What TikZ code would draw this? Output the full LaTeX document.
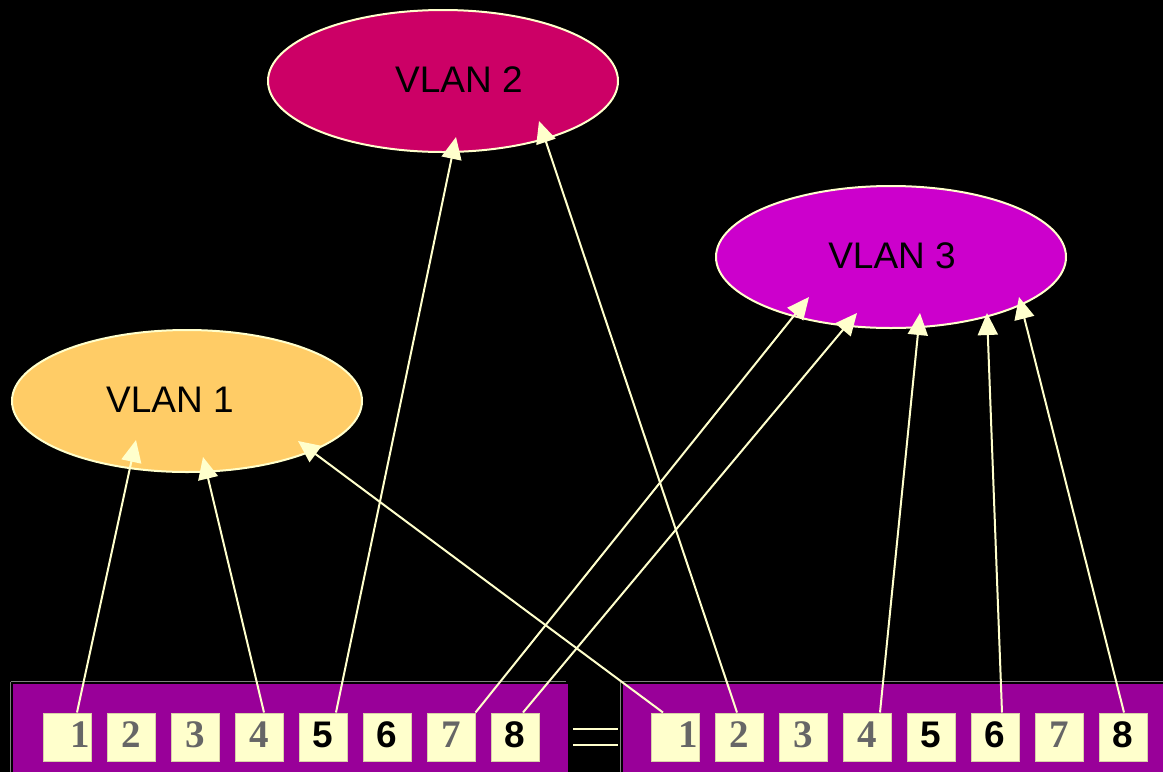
\documentclass[tikz,border=0pt]{standalone}
\usepackage{fontspec}
\setmainfont{Liberation Sans}
\newfontfamily\portserif{Liberation Serif}
\usetikzlibrary{shapes.geometric,arrows.meta}
\definecolor{cream}{HTML}{FFFFCC}
\definecolor{portedge}{HTML}{D8D0A8}
\definecolor{switchfill}{HTML}{990099}
\definecolor{frameline}{HTML}{808080}
\definecolor{dimdigit}{HTML}{666666}
\definecolor{vlanA}{HTML}{FFCC66}
\definecolor{vlanB}{HTML}{CC0066}
\definecolor{vlanC}{HTML}{CC00CC}
\begin{document}
\begin{tikzpicture}[x=1pt,y=-1pt,
  vlan/.style={ellipse, draw=cream, line width=2pt, minimum width=350pt,
    minimum height=142pt, inner sep=0pt},
  vlabel/.style={font=\fontsize{37}{40}\selectfont, text=black, inner sep=0pt},
  portbox/.style={draw=portedge, line width=1pt, fill=cream, minimum size=48pt,
    inner sep=0pt, text height=27pt, text depth=7pt},
  dimport/.style={portbox, text=dimdigit, font=\portserif\bfseries\fontsize{39}{40}\selectfont},
  liveport/.style={portbox, text=black, font=\bfseries\fontsize{37}{40}\selectfont},
  firstport/.style={text width=46pt, align=right},
  link/.style={draw=cream, line width=2pt, -{Triangle[length=22pt,width=20pt]}}]

% canvas
\fill[black] (0,0) rectangle (1163,772);
\useasboundingbox (0,0) rectangle (1163,772);

% switch chassis
\draw[frameline, line width=1pt] (10.5,681.5) -- (566,681.5);
\draw[frameline, line width=1pt] (10.5,681.5) -- (10.5,772);
\fill[switchfill] (13,683.5) rectangle (568,772);
\draw[frameline, line width=1pt] (620.5,772) -- (620.5,681.5) -- (1163,681.5);
\fill[switchfill] (622.5,683.5) rectangle (1163,772);

% trunk between the switches
\draw[cream, line width=2pt] (573,729) -- (618,729);
\draw[cream, line width=2pt] (573,745) -- (618,745);

% VLANs
\node[vlan, fill=vlanA] (v1) at (187,401) {};
\node[vlan, fill=vlanB] (v2) at (443,81) {};
\node[vlan, fill=vlanC] (v3) at (891,257) {};
\node[vlabel] (v1t) at (170,400) {VLAN 1};
\node[vlabel] (v2t) at (459,80) {VLAN 2};
\node[vlabel] (v3t) at (892,256) {VLAN 3};

% ports of the left switch
\node[dimport, firstport] (l1) at (67,737) {1};
\node[dimport] (l2) at (131,737) {2};
\node[dimport] (l3) at (195,737) {3};
\node[dimport] (l4) at (259,737) {4};
\node[liveport] (l5) at (323,737) {5};
\node[liveport] (l6) at (387,737) {6};
\node[dimport] (l7) at (451,737) {7};
\node[liveport] (l8) at (515,737) {8};

% ports of the right switch
\node[dimport, firstport] (r1) at (675,737) {1};
\node[dimport] (r2) at (739,737) {2};
\node[dimport] (r3) at (803,737) {3};
\node[dimport] (r4) at (867,737) {4};
\node[liveport] (r5) at (931,737) {5};
\node[liveport] (r6) at (995,737) {6};
\node[dimport] (r7) at (1059,737) {7};
\node[liveport] (r8) at (1123,737) {8};

% arrow tips on the VLANs
\coordinate (a11) at (136,440);
\coordinate (a14) at (203,457);
\coordinate (a1r) at (298,441);
\coordinate (a25) at (456,137);
\coordinate (a2r) at (539,121);
\coordinate (a37) at (809,297);
\coordinate (a38) at (857,313);
\coordinate (a3r4) at (920,313);
\coordinate (a3r6) at (987,313);
\coordinate (a3r8) at (1019,297);

% memberships
\draw[link] ([xshift=10pt]l1.north) -- (a11);
\draw[link] ([xshift=5pt]l4.north) -- (a14);
\draw[link] ([xshift=13pt]l5.north) -- (a25);
\draw[link] (l7.north east) -- (a37);
\draw[link] ([xshift=8pt]l8.north) -- (a38);
\draw[link] ([xshift=-12pt]r1.north) -- (a1r);
\draw[link] ([xshift=-2pt]r2.north) -- (a2r);
\draw[link] ([xshift=13pt]r4.north) -- (a3r4);
\draw[link] ([xshift=7pt]r6.north) -- (a3r6);
\draw[link] ([xshift=1pt]r8.north) -- (a3r8);
\end{tikzpicture}
\end{document}
